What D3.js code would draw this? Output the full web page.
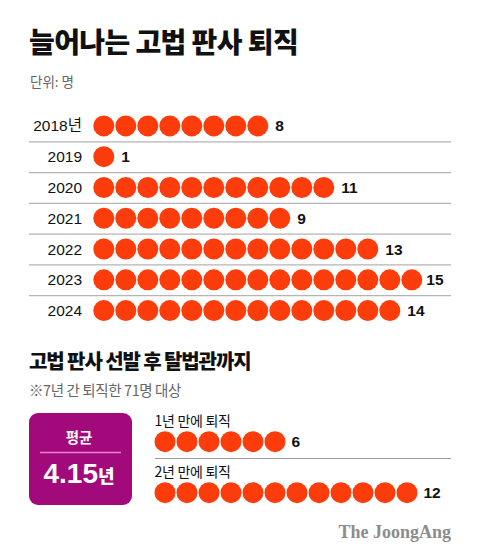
<!DOCTYPE html>
<html><head><meta charset="utf-8">
<script src="https://cdn.jsdelivr.net/npm/d3@7"></script>
<style>
html,body{margin:0;padding:0;background:#fff;}
svg{display:block;}
</style></head>
<body>
<script>
const years = ["2018년","2019","2020","2021","2022","2023","2024"];
const retirements = [8,1,11,9,13,15,14];
const tenureLabels = ["1년 만에 퇴직","2년 만에 퇴직"];
const tenureCounts = [6,12];
const averageLabel = "평균";
const averageValue = "4.15";
const averageUnit = "년";

const W = 480, H = 559;
const KR = "'Noto Sans CJK KR', sans-serif";
const NUM = "'Liberation Sans', 'Noto Sans CJK KR', sans-serif";
const RED = "#fd3c0c";

const svg = d3.select("body").append("svg").attr("width", W).attr("height", H);

// Titles
svg.append("text").attr("x", 29).attr("y", 53)
  .attr("font-family", KR).attr("font-weight", 900).attr("font-size", 28)
  .attr("letter-spacing", -0.6).attr("fill", "#111").text("늘어나는 고법 판사 퇴직");
svg.append("text").attr("x", 30).attr("y", 87)
  .attr("font-family", KR).attr("font-size", 13.5).attr("fill", "#666").text("단위: 명");

// Section 1: dot rows
const y = d3.scaleBand().domain(years).range([110.5, 326]);
const r = 10.5;
const x = d3.scaleLinear().domain([0, 1]).range([93.3 + r, 93.3 + r + 22]);

const sepYears = years.slice(1);
svg.append("g").selectAll("line").data(sepYears).join("line")
  .attr("x1", 29).attr("x2", 451)
  .attr("y1", d => y(d) + 0.5).attr("y2", d => y(d) + 0.5)
  .attr("stroke", "#b4b4b4").attr("stroke-width", 1.2);

const rows = svg.append("g").selectAll("g").data(years).join("g")
  .attr("transform", d => `translate(0,${y(d) + y.bandwidth() / 2})`);

rows.append("text").attr("x", 82).attr("y", 0).attr("dy", "0.36em")
  .attr("text-anchor", "end").attr("font-family", NUM).attr("font-size", 15.5)
  .attr("fill", "#111").text(d => d);

rows.each(function(d, i) {
  const n = retirements[i];
  d3.select(this).selectAll("circle").data(d3.range(n)).join("circle")
    .attr("cx", k => x(k)).attr("cy", 0).attr("r", r).attr("fill", RED);
  d3.select(this).append("text")
    .attr("x", x(n - 1) + r + (n === 15 ? 4 : 7)).attr("y", 0).attr("dy", "0.36em")
    .attr("font-family", NUM).attr("font-weight", 700).attr("font-size", 15.5)
    .attr("fill", "#111").text(n);
});

// Section 2
svg.append("text").attr("x", 29).attr("y", 368.5)
  .attr("font-family", KR).attr("font-weight", 900).attr("font-size", 20)
  .attr("letter-spacing", -1.1).attr("fill", "#111").text("고법 판사 선발 후 탈법관까지");
svg.append("text").attr("x", 29).attr("y", 396)
  .attr("font-family", KR).attr("font-size", 14.5).attr("letter-spacing", -0.4)
  .attr("fill", "#666").text("※7년 간 퇴직한 71명 대상");

// average box
svg.append("rect").attr("x", 29).attr("y", 413).attr("width", 103).attr("height", 92)
  .attr("rx", 9).attr("fill", "#a2097b");
svg.append("line").attr("x1", 40).attr("x2", 121).attr("y1", 452.5).attr("y2", 452.5)
  .attr("stroke", "#e685c8").attr("stroke-width", 1.3);
svg.append("text").attr("x", 79).attr("y", 443).attr("text-anchor", "middle")
  .attr("font-family", KR).attr("font-weight", 700).attr("font-size", 14.5)
  .attr("fill", "#fff").text(averageLabel);
const avg = svg.append("text").attr("x", 79).attr("y", 483).attr("text-anchor", "middle")
  .attr("font-family", NUM).attr("font-weight", 700).attr("fill", "#fff");
avg.append("tspan").attr("font-size", 28).text(averageValue);
avg.append("tspan").attr("font-family", KR).attr("font-size", 18).attr("font-weight", 900).text(averageUnit);

// tenure rows
const ty = d3.scaleOrdinal().domain(tenureLabels).range([441.7, 492.7]);
const x2 = d3.scaleLinear().domain([0, 1]).range([154.5 + r, 154.5 + r + 22]);

svg.append("line").attr("x1", 155).attr("x2", 451).attr("y1", 458.5).attr("y2", 458.5)
  .attr("stroke", "#9a9a9a").attr("stroke-width", 1.2);

const trows = svg.append("g").selectAll("g").data(tenureLabels).join("g")
  .attr("transform", d => `translate(0,${ty(d)})`);
trows.append("text").attr("x", 154.5).attr("y", -15.5)
  .attr("font-family", KR).attr("font-size", 14).attr("letter-spacing", -0.3)
  .attr("fill", "#111").text(d => d);
trows.each(function(d, i) {
  const n = tenureCounts[i];
  d3.select(this).selectAll("circle").data(d3.range(n)).join("circle")
    .attr("cx", k => x2(k)).attr("cy", 0).attr("r", r).attr("fill", RED);
  d3.select(this).append("text")
    .attr("x", x2(n - 1) + r + 6).attr("y", 0).attr("dy", "0.36em")
    .attr("font-family", NUM).attr("font-weight", 700).attr("font-size", 15.5)
    .attr("fill", "#111").text(n);
});

// logo
svg.append("text").attr("x", 451).attr("y", 538).attr("text-anchor", "end")
  .attr("font-family", "'Liberation Serif', serif").attr("font-weight", 700)
  .attr("font-size", 18).attr("fill", "#8c8c8c").text("The JoongAng");
</script>
</body></html>
